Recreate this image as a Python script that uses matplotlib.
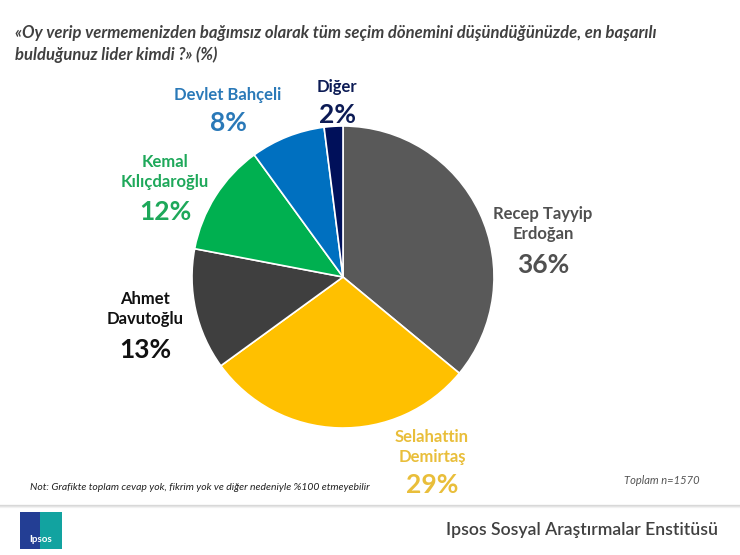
import matplotlib.pyplot as plt
from matplotlib.patches import Rectangle

# data
leaders = ['Recep Tayyip\nErdoğan', 'Selahattin\nDemirtaş', 'Ahmet\nDavutoğlu',
           'Kemal\nKılıçdaroğlu', 'Devlet Bahçeli', 'Diğer']
shares = [36, 29, 13, 12, 8, 2]
slice_colors = ['#595959', '#FFC000', '#3F3F3F', '#00B050', '#0070C0', '#00105A']
label_colors = ['#505050', '#E9BE3A', '#111111', '#1EA85A', '#2A79B8', '#0C1B55']
# label centres in pixels (x, y of name, y of percentage)
label_pos = [(543, 224, 265), (432, 447, 485), (145, 309, 350),
             (165, 172, 212), (228, 95, 123), (337, 87, 115)]

title = ('«Oy verip vermemenizden bağımsız olarak tüm seçim dönemini düşündüğünüzde, en başarılı\n'
         'bulduğunuz lider kimdi ?» (%)')
note = 'Not: Grafikte toplam cevap yok, fikrim yok ve diğer nedeniyle %100 etmeyebilir'
total = 'Toplam n=1570'
footer = 'Ipsos Sosyal Araştırmalar Enstitüsü'

plt.rcParams['font.family'] = ['Lato', 'DejaVu Sans']

W, H = 740, 555
fig = plt.figure(figsize=(W / 100, H / 100), dpi=100)
fig.patch.set_facecolor('white')

def fx(x):
    return x / W

def fy(y):
    return 1 - y / H

# pie
cx, cy, r = 343, 277, 151
ax = fig.add_axes([fx(cx - r), fy(cy + r), 2 * r / W, 2 * r / H])
ax.pie(shares, colors=slice_colors, startangle=90, counterclock=False,
       wedgeprops=dict(edgecolor='white', linewidth=1.2))
ax.set_xlim(-1, 1)
ax.set_ylim(-1, 1)
ax.set_aspect('auto')
ax.axis('off')

for name, val, col, (x, yn, yp) in zip(leaders, shares, label_colors, label_pos):
    fig.text(fx(x), fy(yn), name, ha='center', va='center', color=col,
             fontsize=12, fontweight='bold', linespacing=1.35)
    fig.text(fx(x), fy(yp), f'{val}%', ha='center', va='center', color=col,
             fontsize=19, fontweight='bold')

fig.text(fx(15), fy(44), title, ha='left', va='center', fontsize=12,
         fontweight='bold', fontstyle='italic', color='#404040', linespacing=1.4)
fig.text(fx(30), fy(487), note, ha='left', va='center', fontsize=7.5,
         fontstyle='italic', color='#222222')
fig.text(fx(700), fy(481), total, ha='right', va='center', fontsize=8,
         fontstyle='italic', color='#555555')

# footer line with a soft shadow
for i, a in enumerate([0.35, 0.2, 0.1]):
    fig.add_artist(plt.Line2D([0, 1], [fy(505 + i), fy(505 + i)], color='#999999',
                              alpha=a, linewidth=1))
fig.text(fx(718), fy(530), footer, ha='right', va='center', fontsize=12.7,
         color='#404040', fontweight='semibold')

# simple Ipsos logo block
fig.add_artist(Rectangle((fx(20), fy(549)), 42 / W, 37 / H, facecolor='#233E94',
                         edgecolor='none', transform=fig.transFigure))
fig.add_artist(Rectangle((fx(40), fy(549)), 22 / W, 37 / H, facecolor='#12A3A0',
                         edgecolor='none', transform=fig.transFigure))
fig.text(fx(41), fy(540), 'Ipsos', ha='center', va='center', fontsize=7,
         color='white', fontweight='bold')

fig.savefig('out.png', dpi=100)
